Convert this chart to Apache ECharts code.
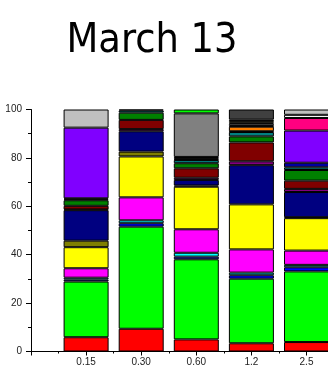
<!DOCTYPE html>
<html>
<head>
<meta charset="utf-8">
<script src="https://cdn.jsdelivr.net/npm/echarts@6/dist/echarts.min.js"></script>
<style>
  html, body { margin: 0; padding: 0; background: #fff; }
  #chart { width: 328px; height: 375px; }
</style>
</head>
<body>
<div id="chart"></div>
<script>
// Size classes on the x axis, percentages stacked to 100
const categories = ['0.15', '0.30', '0.60', '1.2', '2.5'];
const yTicks = [0, 20, 40, 60, 80, 100];

// One array per component, bottom to top; null = not present in that class
const red        = [5.9, 9.4, 5.0, 3.4, 3.9];
const green      = [23.0, 42.2, 33.1, 26.7, 29.2];
const blue       = [0.8, 1.4, 1.1, 1.4, 1.7];
const cyan       = [0.8, 1.2, 1.6, 1.1, 1.0];
const magenta    = [3.9, 9.5, 9.7, 9.6, 5.9];
const yellow     = [8.7, 16.9, 17.6, 18.6, 13.4];
const darkYellow = [2.7, 2.0, 0.5, null, 0.4];
const navy       = [12.6, 8.4, 2.3, 16.2, 10.4];
const purple     = [0.3, 0.9, 0.9, 1.6, 1.3];
const wine       = [1.5, 3.8, 3.9, 7.8, 3.4];
const olive      = [2.3, 3.0, 2.1, 2.5, 4.4];
const darkCyan   = [0.4, 0.9, 1.3, 1.8, 1.1];
const royal      = [0.4, 0.4, 0.3, 0.3, 1.9];
const orange     = [null, null, 0.5, 1.9, null];
const violet     = [29.2, null, 0.5, 0.3, 13.3];
const pink       = [null, null, null, null, 5.2];
const white      = [null, null, null, 0.9, 1.3];
const ltGray     = [7.5, null, null, 0.4, 2.2];
const gray       = [null, null, 18.0, null, null];
const ltYellow   = [null, null, null, 0.7, null];
const black      = [null, null, null, 0.6, null];
const darkGray   = [null, null, null, 4.2, null];
const lime       = [null, null, 1.6, null, null];

const layers = [
  ['red', red, '#ff0000'],
  ['green', green, '#00ff00'],
  ['blue', blue, '#0000ff'],
  ['cyan', cyan, '#00ffff'],
  ['magenta', magenta, '#ff00ff'],
  ['yellow', yellow, '#ffff00'],
  ['darkYellow', darkYellow, '#808000'],
  ['navy', navy, '#000080'],
  ['purple', purple, '#800080'],
  ['wine', wine, '#800000'],
  ['olive', olive, '#008000'],
  ['darkCyan', darkCyan, '#008080'],
  ['royal', royal, '#0000a0'],
  ['orange', orange, '#ff8000'],
  ['violet', violet, '#8000ff'],
  ['pink', pink, '#ff0080'],
  ['white', white, '#ffffff'],
  ['ltGray', ltGray, '#c0c0c0'],
  ['gray', gray, '#808080'],
  ['ltYellow', ltYellow, '#ffff80'],
  ['black', black, '#000000'],
  ['darkGray', darkGray, '#404040'],
  ['lime', lime, '#00ff00']
];

// Bars live on a hidden category axis whose first (empty) slot sits on the y axis;
// the visible value axis below carries the ticks and labels up to the right edge.
const slots = [''].concat(categories);
const plotTop = 109.5, plotBottom = 23.5, plotLeft = 31;
const slotStep = 55.1;
const barsRight = 328 - (plotLeft + slotStep * (slots.length - 1));
const axisMax = (328 - plotLeft) / slotStep;

const series = layers.map(([name, values, color]) => ({
  name: name,
  type: 'bar',
  stack: 'total',
  xAxisIndex: 0,
  yAxisIndex: 0,
  barWidth: 45,
  clip: false,
  data: [null].concat(values).map(v => (v == null ? '-' : v)),
  itemStyle: { color: color, borderColor: '#000', borderWidth: 1 }
}));

const labelFont = "'Liberation Sans', Arial, sans-serif";

const chart = echarts.init(document.getElementById('chart'));
chart.setOption({
  animation: false,
  backgroundColor: '#fff',
  title: {
    text: 'March 13',
    left: 147,
    top: 16,
    textAlign: 'center',
    textStyle: {
      fontFamily: "'DejaVu Sans Condensed', 'DejaVu Sans', sans-serif",
      fontSize: 41,
      fontWeight: 'normal',
      color: '#000'
    }
  },
  grid: [
    { left: plotLeft, right: barsRight, top: plotTop, bottom: plotBottom },
    { left: plotLeft, right: 0, top: plotTop, bottom: plotBottom }
  ],
  xAxis: [
    {
      gridIndex: 0,
      type: 'category',
      data: slots,
      boundaryGap: false,
      show: false
    },
    {
      gridIndex: 1,
      type: 'value',
      min: 0,
      max: axisMax,
      interval: 1,
      splitLine: { show: false },
      axisLine: { show: true, onZero: false, lineStyle: { color: '#000', width: 1 } },
      axisTick: { show: true, length: 4, lineStyle: { color: '#000' } },
      minorTick: { show: true, splitNumber: 2, length: 2, lineStyle: { color: '#000' } },
      axisLabel: {
        margin: 6,
        fontFamily: labelFont,
        fontSize: 10,
        color: '#222',
        showMaxLabel: false,
        formatter: v => (Number.isInteger(v) && v >= 1 && v <= categories.length) ? categories[v - 1] : ''
      }
    }
  ],
  yAxis: [
    {
      gridIndex: 0,
      type: 'value',
      min: yTicks[0],
      max: yTicks[yTicks.length - 1],
      show: false
    },
    {
      gridIndex: 1,
      type: 'value',
      min: yTicks[0],
      max: yTicks[yTicks.length - 1],
      interval: yTicks[1] - yTicks[0],
      splitLine: { show: false },
      axisLine: { show: true, lineStyle: { color: '#000', width: 1 } },
      axisTick: { show: true, length: 5, lineStyle: { color: '#000' } },
      minorTick: { show: true, splitNumber: 2, length: 3, lineStyle: { color: '#000' } },
      axisLabel: {
        margin: 9,
        fontFamily: labelFont,
        fontSize: 10,
        color: '#222'
      }
    }
  ],
  series: series
});
</script>
</body>
</html>
